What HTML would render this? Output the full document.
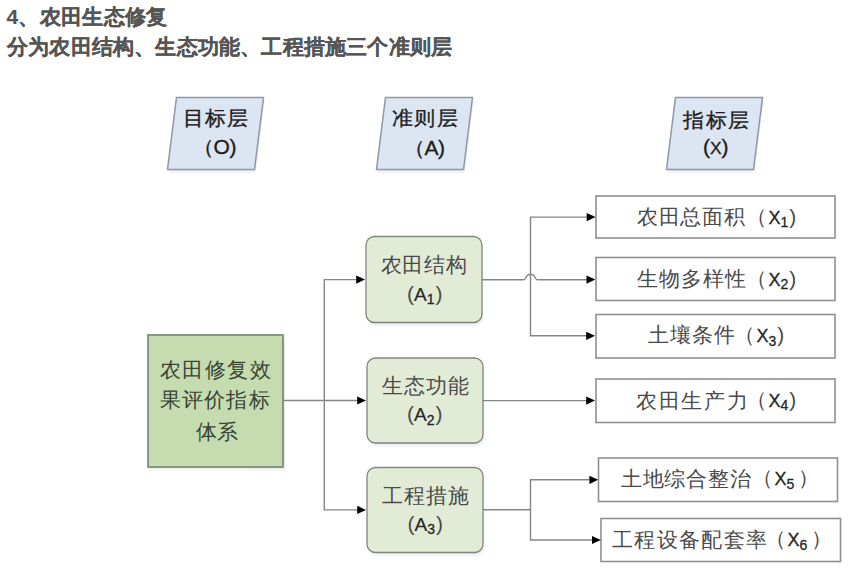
<!DOCTYPE html>
<html><head><meta charset="utf-8">
<style>
html,body{margin:0;padding:0;background:#fff;width:850px;height:568px;overflow:hidden;position:relative}
body{font-family:"Liberation Sans",sans-serif}
.t{position:absolute;white-space:nowrap;line-height:1}
.hd{color:#555;font-weight:bold;font-size:21px;-webkit-text-stroke:0.15px #555}
.pl{color:#1e1e1e;font-size:20px;-webkit-text-stroke:0.35px #1e1e1e;transform:scaleX(1.05);transform-origin:0 0}
.bx{color:#4a4a4a;font-size:21px}
.gr{color:#394535}
svg{position:absolute;left:0;top:0}
.A{font-size:19px;color:#262626;-webkit-text-stroke:0.2px #262626}
.X{font-size:18px;color:#262626;margin-left:1.5px;-webkit-text-stroke:0.3px #262626}
.sb{font-size:14px;position:relative;top:3.5px;color:#262626;margin-right:1px;-webkit-text-stroke:0.3px #262626}
</style></head><body>
<svg width="850" height="568" viewBox="0 0 850 568">
  <g fill="#a8b4c8" opacity="0.12" transform="translate(0,1)">
    <polygon points="177.5,100.5 264.5,100.5 255.5,172.5 168.5,172.5"/>
    <polygon points="386.5,100.5 473.5,100.5 464.5,172.5 377.5,172.5"/>
    <polygon points="676.5,100.5 763.5,100.5 754.5,172.5 667.5,172.5"/>
    <rect x="149" y="338" width="136" height="132"/>
    <rect x="367" y="239.5" width="116" height="86" rx="8.5"/>
    <rect x="368" y="361" width="116" height="85" rx="8.5"/>
    <rect x="368" y="470.5" width="116" height="85" rx="8.5"/>
  </g>
  <g fill="#a8b4c8" opacity="0.12" transform="translate(0,-1)">
    <polygon points="177.5,100.5 264.5,100.5 255.5,172.5 168.5,172.5"/>
    <polygon points="386.5,100.5 473.5,100.5 464.5,172.5 377.5,172.5"/>
    <polygon points="676.5,100.5 763.5,100.5 754.5,172.5 667.5,172.5"/>
    <rect x="149" y="338" width="136" height="132"/>
    <rect x="367" y="239.5" width="116" height="86" rx="8.5"/>
    <rect x="368" y="361" width="116" height="85" rx="8.5"/>
    <rect x="368" y="470.5" width="116" height="85" rx="8.5"/>
  </g>
  <!-- parallelograms -->
  <polygon points="176.5,97.5 263.5,97.5 254.5,169.5 167.5,169.5" fill="#dce6f2" stroke="#8e98a8" stroke-width="1.5"/>
  <polygon points="385.5,97.5 472.5,97.5 463.5,169.5 376.5,169.5" fill="#dce6f2" stroke="#8e98a8" stroke-width="1.5"/>
  <polygon points="675.5,97.5 762.5,97.5 753.5,169.5 666.5,169.5" fill="#dce6f2" stroke="#8e98a8" stroke-width="1.5"/>
  <!-- green main box -->
  <rect x="148" y="335" width="135" height="132" fill="#c4dcb0" stroke="#7b8d73" stroke-width="1.75"/>
  <!-- A boxes -->
  <rect x="366" y="236.5" width="116" height="86" rx="8.5" fill="#e2ebd6" stroke="#7f877b" stroke-width="1.3"/>
  <rect x="367" y="358" width="116" height="85" rx="8.5" fill="#e2ebd6" stroke="#7f877b" stroke-width="1.3"/>
  <rect x="367" y="467.5" width="116" height="85" rx="8.5" fill="#e2ebd6" stroke="#7f877b" stroke-width="1.3"/>
  <!-- X boxes -->
  <rect x="596" y="196" width="239" height="42" fill="#fff" stroke="#8f8f8f" stroke-width="1.6"/>
  <rect x="596" y="257.5" width="239" height="43" fill="#fff" stroke="#8f8f8f" stroke-width="1.6"/>
  <rect x="596" y="314.5" width="239" height="43.5" fill="#fff" stroke="#8f8f8f" stroke-width="1.6"/>
  <rect x="596" y="379" width="239" height="43.5" fill="#fff" stroke="#8f8f8f" stroke-width="1.6"/>
  <rect x="598.5" y="458" width="239" height="43.5" fill="#fff" stroke="#8f8f8f" stroke-width="1.6"/>
  <rect x="601" y="518.5" width="239.5" height="43" fill="#fff" stroke="#8f8f8f" stroke-width="1.6"/>
  <!-- connectors -->
  <g fill="none" stroke="#858585" stroke-width="1.4">
    <path d="M284,400.5 H358"/>
    <path d="M358,279.6 H324.3 V509.9 H358"/>
    <path d="M482,279.7 H524 C525.8,279.7 525.6,274.3 530.5,274.3 C535.4,274.3 535.2,279.7 537,279.7 H587"/>
    <path d="M587,217.1 H530.5 V335.8 H587"/>
    <path d="M483,400.6 H587"/>
    <path d="M483,509.8 H530.5"/>
    <path d="M590,479.8 H530.5 V540 H593"/>
  </g>
  <g fill="#000">
    <polygon points="356.2,275.5 365,279.6 356.2,283.7"/>
    <polygon points="357.2,396.4 366,400.5 357.2,404.6"/>
    <polygon points="357.2,505.8 366,509.9 357.2,514"/>
    <polygon points="586.7,213 595.5,217.1 586.7,221.2"/>
    <polygon points="586.5,275.5 595.3,279.6 586.5,283.7"/>
    <polygon points="586.2,331.7 595,335.8 586.2,339.9"/>
    <polygon points="586.2,396.5 595,400.6 586.2,404.7"/>
    <polygon points="589.4,475.7 598.2,479.8 589.4,483.9"/>
    <polygon points="592,535.9 600.8,540 592,544.1"/>
  </g>
</svg>
<div class="t hd" style="left:6.50px;top:5.50px;letter-spacing:0.29px">4、农田生态修复</div>
<div class="t hd" style="left:7.00px;top:36.00px;letter-spacing:0.20px">分为农田结构、生态功能、工程措施三个准则层</div>
<div class="t pl" style="left:183.00px;top:107.50px;letter-spacing:0.80px">目标层</div>
<div class="t pl" style="left:193.00px;top:137.00px;letter-spacing:-0.40px">（O)</div>
<div class="t pl" style="left:391.50px;top:107.50px;letter-spacing:1.20px">准则层</div>
<div class="t pl" style="left:403.50px;top:137.50px;letter-spacing:-0.50px">（A)</div>
<div class="t pl" style="left:683.00px;top:109.50px;letter-spacing:1.50px">指标层</div>
<div class="t pl" style="left:702.50px;top:137.00px">(<span style="font-size:16.5px">X</span>)</div>
<div class="t bx gr" style="left:160.00px;top:359.00px;letter-spacing:1.45px">农田修复效</div>
<div class="t bx gr" style="left:160.00px;top:389.00px;letter-spacing:1.15px">果评价指标</div>
<div class="t bx gr" style="left:195.50px;top:420.50px;letter-spacing:0.60px">体系</div>
<div class="t bx" style="left:380.50px;top:253.50px;letter-spacing:0.93px">农田结构</div>
<div class="t bx" style="left:407.00px;top:282.50px">(<span class="A">A</span><span class="sb">1</span>)</div>
<div class="t bx" style="left:382.00px;top:374.50px;letter-spacing:1.00px">生态功能</div>
<div class="t bx" style="left:407.00px;top:403.00px">(<span class="A">A</span><span class="sb">2</span>)</div>
<div class="t bx" style="left:382.00px;top:484.50px;letter-spacing:1.00px">工程措施</div>
<div class="t bx" style="left:407.50px;top:512.50px">(<span class="A">A</span><span class="sb">3</span>)</div>
<div class="t bx" style="left:637.00px;top:205.50px;letter-spacing:0.65px">农田总面积</div>
<div class="t bx" style="left:746.00px;top:205.50px">（<span class="X">X</span><span class="sb">1</span>)</div>
<div class="t bx" style="left:637.00px;top:267.50px;letter-spacing:1.00px">生物多样性</div>
<div class="t bx" style="left:746.00px;top:267.50px">（<span class="X">X</span><span class="sb">2</span>)</div>
<div class="t bx" style="left:648.00px;top:324.00px;letter-spacing:0.93px">土壤条件</div>
<div class="t bx" style="left:734.00px;top:324.00px">（<span class="X">X</span><span class="sb">3</span>)</div>
<div class="t bx" style="left:636.00px;top:389.50px;letter-spacing:1.65px">农田生产力</div>
<div class="t bx" style="left:746.00px;top:388.50px">（<span class="X">X</span><span class="sb">4</span>)</div>
<div class="t bx" style="left:621.00px;top:467.50px;letter-spacing:0.72px">土地综合整治</div>
<div class="t bx" style="left:752.00px;top:467.00px">（<span class="X">X</span><span class="sb">5</span><span style="margin-left:3px">）</span></div>
<div class="t bx" style="left:612.00px;top:528.50px;letter-spacing:1.33px">工程设备配套率</div>
<div class="t bx" style="left:765.00px;top:528.00px">（<span class="X">X</span><span class="sb">6</span><span style="margin-left:3px">）</span></div>
</body></html>
